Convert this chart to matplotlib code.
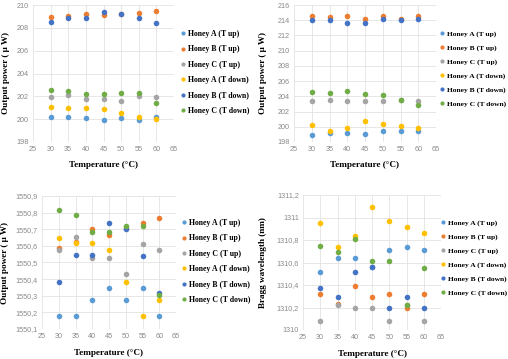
import matplotlib
matplotlib.use("Agg")
import matplotlib.pyplot as plt
from matplotlib.ticker import FuncFormatter, MultipleLocator
from matplotlib.lines import Line2D

temps = [30, 35, 40, 45, 50, 55, 60]
series_names = ["Honey A (T up)", "Honey B (T up)", "Honey C (T up)",
                "Honey A (T down)", "Honey B (T down)", "Honey C (T down)"]
colors = ["#5B9BD5", "#ED7D31", "#A5A5A5", "#FFC000", "#4472C4", "#70AD47"]

# Panel 1 (top-left) output power
p1_a_up = [200.15, 200.15, 200.06, 199.95, 200.06, 199.95, 200.2]
p1_b_up = [208.95, 209.05, 209.2, 209.15, 209.2, 209.3, 209.45]
p1_c_up = [201.9, 202.1, 201.8, 201.8, 201.6, 202.0, 201.95]
p1_a_dn = [201.1, 201.0, 201.0, 200.9, 200.5, 200.15, 200.05]
p1_b_dn = [208.55, 208.85, 208.85, 209.35, 209.2, 208.85, 208.45]
p1_c_dn = [202.56, 202.47, 202.2, 202.2, 202.3, 202.3, 201.45]

# Panel 2 (top-right) output power
p2_a_up = [198.9, 199.2, 199.2, 199.05, 199.4, 199.5, 199.4]
p2_b_up = [214.55, 214.45, 214.6, 214.15, 214.5, 214.2, 214.5]
p2_c_up = [203.4, 203.5, 203.35, 203.35, 203.4, 203.5, 203.4]
p2_a_dn = [200.2, 199.5, 199.8, 200.7, 200.3, 200.05, 199.9]
p2_b_dn = [214.0, 214.05, 213.7, 213.6, 214.2, 214.05, 214.2]
p2_c_dn = [204.6, 204.4, 204.75, 204.25, 204.2, 203.5, 202.8]

# Panel 3 (bottom-left)
p3_a_up = [1550.18, 1550.178, 1550.275, 1550.347, 1550.273, 1550.347, 1550.18]
p3_b_up = [1550.585, 1550.625, 1550.699, 1550.663, 1550.708, 1550.735, 1550.768]
p3_c_up = [1550.573, 1550.651, 1550.529, 1550.527, 1550.433, 1550.611, 1550.573]
p3_a_dn = [1550.648, 1550.615, 1550.615, 1550.573, 1550.381, 1550.18, 1550.275]
p3_b_dn = [1550.385, 1550.543, 1550.543, 1550.735, 1550.699, 1550.541, 1550.317]
p3_c_dn = [1550.814, 1550.783, 1550.685, 1550.685, 1550.72, 1550.72, 1550.307]

# Panel 4 (bottom-right) Bragg wavelength
p4_a_up = [1310.52, 1310.64, 1310.64, 1310.56, 1310.71, 1310.74, 1310.71]
p4_b_up = [1310.32, 1310.23, 1310.39, 1310.29, 1310.32, 1310.2, 1310.32]
p4_c_up = [1310.08, 1310.225, 1310.195, 1310.195, 1310.08, 1310.22, 1310.08]
p4_a_dn = [1310.95, 1310.74, 1310.84, 1311.09, 1310.97, 1310.92, 1310.86]
p4_b_dn = [1310.37, 1310.29, 1310.52, 1310.56, 1310.195, 1310.29, 1310.2]
p4_c_dn = [1310.75, 1310.69, 1310.81, 1310.61, 1310.61, 1310.225, 1310.55]

W, H = 508, 359
fig = plt.figure(figsize=(W / 100, H / 100), dpi=100)

def frac_rect(l, r, t, b):
    return [l / W, 1 - b / H, (r - l) / W, (b - t) / H]

def comma_fmt(v, pos):
    return f"{round(v, 1):g}".replace(".", ",")

panels = [
    dict(rect=frac_rect(33, 174, 5, 142), data=[p1_a_up, p1_b_up, p1_c_up, p1_a_dn, p1_b_dn, p1_c_dn],
         ylim=(198, 210), ystep=2, ylabel="Output power ( \u03bc W)", fmt=None,
         ylx=6, xly=165, legx=181, legy=30, lsize=5.6),
    dict(rect=frac_rect(294, 436, 5, 142), data=[p2_a_up, p2_b_up, p2_c_up, p2_a_dn, p2_b_dn, p2_c_dn],
         ylim=(198, 216), ystep=2, ylabel="Output power ( \u03bc W)", fmt=None,
         ylx=263, xly=165, legx=440, legy=30, lsize=5.4),
    dict(rect=frac_rect(42, 176, 196, 329), data=[p3_a_up, p3_b_up, p3_c_up, p3_a_dn, p3_b_dn, p3_c_dn],
         ylim=(1550.1, 1550.9), ystep=0.1, ylabel="Output power ( \u03bc W)", fmt=comma_fmt,
         ylx=5, xly=353, legx=182, legy=219, lsize=5.6),
    dict(rect=frac_rect(303, 441, 195, 330), data=[p4_a_up, p4_b_up, p4_c_up, p4_a_dn, p4_b_dn, p4_c_dn],
         ylim=(1310, 1311.2), ystep=0.2, ylabel="Bragg wavelength (nm)", fmt=comma_fmt,
         ylx=263, xly=354, legx=441, legy=219, lsize=5.4),
]

serif = "Liberation Serif"
for p in panels:
    ax = fig.add_axes(p["rect"])
    for vals, c, name in zip(p["data"], colors, series_names):
        ax.scatter(temps, vals, s=16, color=c, zorder=3, linewidths=0, label=name)
    ax.set_xlim(25, 65)
    ax.set_ylim(*p["ylim"])
    ax.xaxis.set_major_locator(MultipleLocator(5))
    ax.yaxis.set_major_locator(MultipleLocator(p["ystep"]))
    if p["fmt"]:
        ax.yaxis.set_major_formatter(FuncFormatter(p["fmt"]))
    ax.grid(True, color="#E3E3E3", lw=0.6, zorder=0)
    for s in ax.spines.values():
        s.set_visible(False)
    ax.tick_params(length=0, labelsize=5.2, labelcolor="#8A8A8A", pad=3)
    for lab in ax.get_xticklabels() + ax.get_yticklabels():
        lab.set_fontfamily("Liberation Sans")
    fig.text(p["ylx"] / W, (p["rect"][1] + p["rect"][3] / 2), p["ylabel"], rotation=90,
             ha="center", va="center", fontsize=6.6, fontweight="bold", family=serif)
    fig.text((p["rect"][0] + p["rect"][2] / 2), 1 - p["xly"] / H, "Temperature (\u00b0C)",
             ha="center", va="center", fontsize=6.6, fontweight="bold", family=serif)
    handles = [Line2D([], [], marker="o", ls="", color=c, markersize=3, markeredgewidth=0)
               for c in colors]
    fig.legend(handles, series_names, loc="upper left",
               bbox_to_anchor=(p["legx"] / W, 1 - p["legy"] / H),
               frameon=False, prop=dict(family=serif, weight="bold", size=p["lsize"]),
               handlelength=0.6, handletextpad=0.35, labelspacing=0.95 * 5.6 / p["lsize"],
               borderpad=0, borderaxespad=0)

fig.savefig("out.png", dpi=100)
